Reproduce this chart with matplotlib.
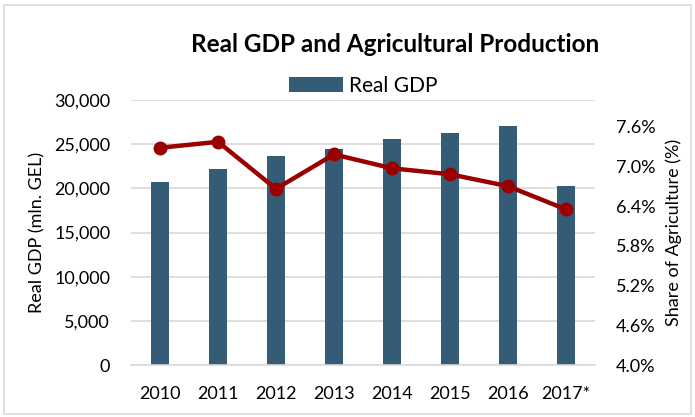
import matplotlib
matplotlib.use("Agg")
import matplotlib.pyplot as plt
from matplotlib.ticker import FuncFormatter, FixedLocator
from matplotlib.patches import Rectangle

years = ["2010", "2011", "2012", "2013", "2014", "2015", "2016", "2017*"]
real_gdp = [20730, 22250, 23640, 24440, 25570, 26290, 27080, 20240]
agri_share = [7.28, 7.37, 6.66, 7.18, 6.97, 6.88, 6.70, 6.35]

bar_color = "#355C77"
line_color = "#9A0000"
grid_color = "#D9D9D9"
font = ["Lato", "DejaVu Sans"]
plt.rcParams['font.family'] = font

fig = plt.figure(figsize=(6.95, 4.17), dpi=100)
ax = fig.add_axes([0.1885, 0.1247, 0.6675, 0.6353])
x = list(range(len(years)))
bars = ax.bar(x, real_gdp, width=0.32, color=bar_color, zorder=2, label="Real GDP")
ax.set_xlim(-0.5, len(years) - 0.5)
ax.set_ylim(0, 30000)
ax.set_yticks(range(0, 30001, 5000))
ax.yaxis.set_major_formatter(FuncFormatter(lambda v, p: f"{int(v):,}"))
ax.set_xticks(x)
ax.set_xticklabels(years)
ax.grid(axis="y", color=grid_color, linewidth=1.2, zorder=0)
ax.set_axisbelow(True)
for s in ["top", "right", "left"]:
    ax.spines[s].set_visible(False)
ax.spines["bottom"].set_color(grid_color)
ax.spines["bottom"].set_linewidth(1.2)
ax.tick_params(axis="y", length=0, labelsize=13, colors="#000000", pad=15)
ax.tick_params(axis="x", length=0, labelsize=13, colors="#000000", pad=15)
ax.set_ylabel("Real GDP (mln. GEL)", fontsize=13, labelpad=6)

ax2 = ax.twinx()
ax2.plot(x, agri_share, color=line_color, linewidth=3.2, marker="o", markersize=9, zorder=3)
ax2.set_ylim(4.0, 8.0)
ax2.yaxis.set_major_locator(FixedLocator([4.0, 4.6, 5.2, 5.8, 6.4, 7.0, 7.6]))
ax2.yaxis.set_major_formatter(FuncFormatter(lambda v, p: f"{v:.1f}%"))
for s in ["top", "right", "left", "bottom"]:
    ax2.spines[s].set_visible(False)
ax2.tick_params(length=0, labelsize=13, pad=15)
ax2.set_ylabel("Share of Agriculture (%)", fontsize=13, labelpad=7)

fig.text(0.568, 0.894, "Real GDP and Agricultural Production", ha="center", va="center",
         fontsize=17.5, fontweight="bold")
ax.legend(handles=[bars], loc="center", bbox_to_anchor=(0.5, 1.055), frameon=False,
          fontsize=15, handlelength=2.6, handleheight=0.7, handletextpad=0.3)

fig.patches.append(Rectangle((0.006, 0.006), 0.988, 0.982, transform=fig.transFigure,
                             fill=False, edgecolor="#D9D9D9", linewidth=1.2))

fig.savefig("out.png", dpi=100)
